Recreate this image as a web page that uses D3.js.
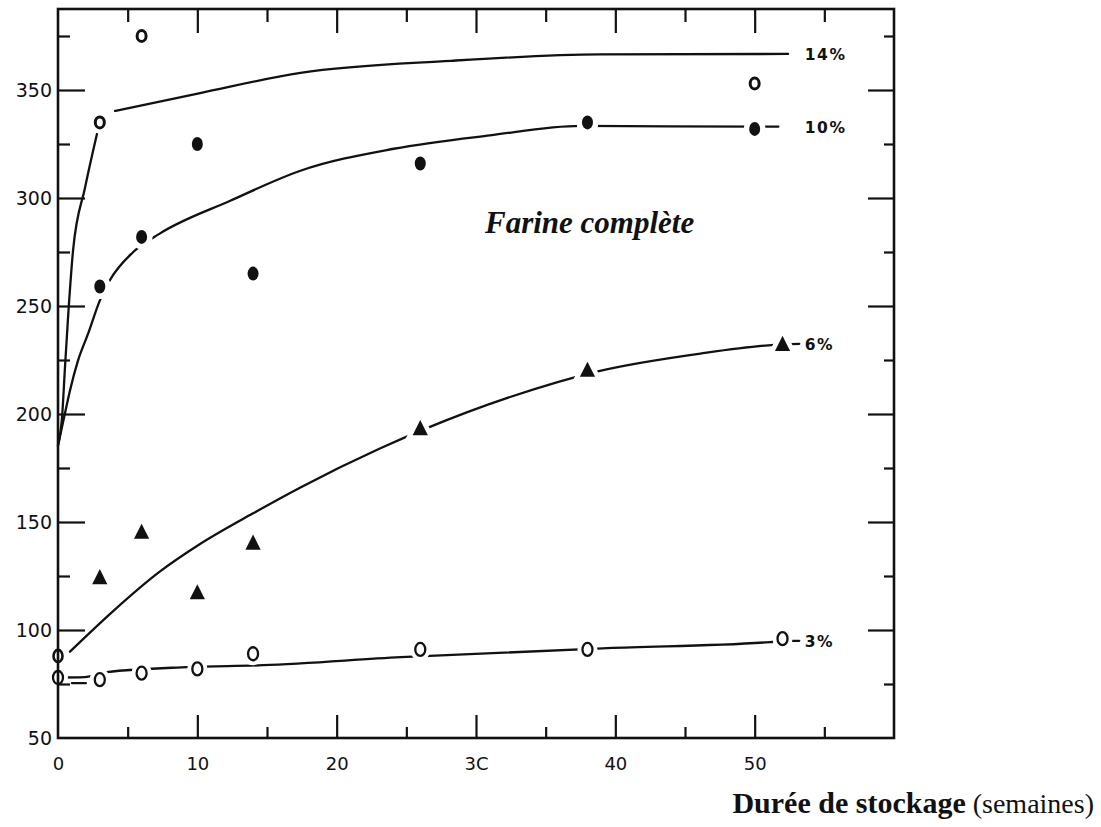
<!DOCTYPE html>
<html><head><meta charset="utf-8">
<script src="https://cdn.jsdelivr.net/npm/d3@7"></script>
<style>body{margin:0;background:#fff;} svg{display:block;}</style>
</head><body>
<svg id="chart" width="1101" height="827"></svg>
<script>
// ---------- data ----------
const seriesNames = ["14%", "10%", "6%", "3%"];

const weeks14 = [3, 6, 50];
const vals14  = [335, 375, 353];

const weeks10 = [3, 6, 10, 14, 26, 38, 50];
const vals10  = [259, 282, 325, 265, 316, 335, 332];

const weeks6  = [0, 3, 6, 10, 14, 26, 38, 52];
const vals6   = [88, 124, 145, 117, 140, 193, 220, 232];

const weeks3  = [0, 3, 6, 10, 14, 26, 38, 52];
const vals3   = [78, 77, 80, 82, 89, 91, 91, 96];

// hand-fitted curves as drawn in the figure [week, value]
const curve14a = [[0,185.5],[0.29,198.4],[0.5,221.5],[0.72,244.6],[1.08,275.6],[1.94,304.7],[2.8,329.7]];
const curve14  = [[4.1,340.3],[10.2,348.6],[17.4,357.9],[28.2,363.5],[38.9,366.5],[52.4,366.7]];
const curve10  = [[0,185.5],[0.5,200.3],[0.86,210.9],[1.44,224.8],[2.16,237.2],[3.0,252.5],[3.7,261.7],[5.4,275],[7.3,283.5],[12.36,298.7],[17.4,312.6],[24.1,322.8],[31,329],[37.5,333.4],[50.2,333],[51.7,333]];
const curve6   = [[0.86,90],[4,109],[7.3,127],[10,139],[14,154],[17.4,166],[23.1,184],[26.3,193],[32.5,208],[38.9,220],[46.1,228],[51.4,232],[53.2,232.5]];
const curve3   = [[0,78],[1.9,78.2],[3.5,80.5],[9.3,82.8],[14.7,83.7],[24.6,87.4],[39.4,91.6],[51.1,94.4],[52,95],[53.2,95]];
const curve3b  = [[1.0,75.4],[2.0,75.4]];

const xMajor = [10, 20, 30, 40, 50];
const xMinor = [5, 15, 25, 35, 45, 55];
const xLabelVals = [0, 10, 20, 30, 40, 50];
const xTickLabels = ["0", "10", "20", "3C", "40", "50"];
const yMajor = [100, 150, 200, 250, 300, 350];
const yMinor = [75, 125, 175, 225, 275, 325, 375];
const yLabelVals = [50, 100, 150, 200, 250, 300, 350];

// ---------- scales ----------
const L = 58, R = 894, T = 9, B = 738;
const x = d3.scaleLinear().domain([0, 60]).range([L, R]);
const y = d3.scaleLinear().domain([50, 387.5]).range([B, T]);

const svg = d3.select("#chart");
const ink = "#111";

// ---------- curves ----------
const line = d3.line().x(d => x(d[0])).y(d => y(d[1])).curve(d3.curveMonotoneX);
const gCurves = svg.append("g");
[curve14a, curve14, curve10, curve6, curve3, curve3b].forEach(c => {
  gCurves.append("path").attr("d", line(c)).attr("fill", "none")
    .attr("stroke", ink).attr("stroke-width", 2.3).attr("stroke-linecap", "round");
});

// ---------- markers ----------
const gM = svg.append("g");
function zipPts(w, v) { return w.map((d, i) => ({w: d, v: v[i]})); }
const tri = d3.symbol().type(d3.symbolTriangle).size(100);

function drawOpen(pts, rx, ry, sw, halo) {
  gM.selectAll(null).data(pts).join("ellipse")
    .attr("cx", d => x(d.w)).attr("cy", d => y(d.v)).attr("rx", rx).attr("ry", ry)
    .attr("fill", "#fff").attr("stroke", "#fff").attr("stroke-width", halo);
  gM.selectAll(null).data(pts).join("ellipse")
    .attr("cx", d => x(d.w)).attr("cy", d => y(d.v)).attr("rx", rx).attr("ry", ry)
    .attr("fill", "#fff").attr("stroke", ink).attr("stroke-width", sw);
}
function drawFilled(pts) {
  gM.selectAll(null).data(pts).join("ellipse")
    .attr("cx", d => x(d.w)).attr("cy", d => y(d.v)).attr("rx", 5.5).attr("ry", 7)
    .attr("fill", "#fff").attr("stroke", "#fff").attr("stroke-width", 11);
  gM.selectAll(null).data(pts).join("ellipse")
    .attr("cx", d => x(d.w)).attr("cy", d => y(d.v)).attr("rx", 5.5).attr("ry", 7)
    .attr("fill", ink);
}
function drawTri(pts) {
  gM.selectAll(null).data(pts).join("path")
    .attr("transform", d => `translate(${x(d.w)},${y(d.v) + 1}) scale(1,1.15)`)
    .attr("d", tri).attr("fill", "#fff").attr("stroke", "#fff").attr("stroke-width", 9);
  gM.selectAll(null).data(pts).join("path")
    .attr("transform", d => `translate(${x(d.w)},${y(d.v) + 1}) scale(1,1.15)`)
    .attr("d", tri).attr("fill", ink);
}

const p14 = zipPts(weeks14, vals14);
const p10 = zipPts(weeks10, vals10);
const p6 = zipPts(weeks6, vals6);
const p3 = zipPts(weeks3, vals3);

drawOpen(p14, 4.5, 5.5, 3, 11);
drawFilled(p10);
drawTri(p6.filter(d => d.w > 0));
drawOpen(p6.filter(d => d.w === 0), 4.5, 6, 2.6, 4);
drawOpen(p3, 5, 6.5, 2.3, 10);

// ---------- frame & axes ----------
svg.append("rect").attr("x", L).attr("y", T).attr("width", R - L).attr("height", B - T)
  .attr("fill", "none").attr("stroke", ink).attr("stroke-width", 2.6);

function styleAxis(g) {
  g.select(".domain").remove();
  g.selectAll(".tick line").attr("stroke", ink).attr("stroke-width", 2.2);
}
const noFmt = () => "";
// bottom (ticks inward)
svg.append("g").attr("transform", `translate(0,${B})`)
  .call(d3.axisTop(x).tickValues(xMajor).tickSize(23).tickFormat(noFmt)).call(styleAxis);
svg.append("g").attr("transform", `translate(0,${B})`)
  .call(d3.axisTop(x).tickValues(xMinor).tickSize(11).tickFormat(noFmt)).call(styleAxis);
// top
svg.append("g").attr("transform", `translate(0,${T})`)
  .call(d3.axisBottom(x).tickValues(xMajor).tickSize(24).tickFormat(noFmt)).call(styleAxis);
svg.append("g").attr("transform", `translate(0,${T})`)
  .call(d3.axisBottom(x).tickValues(xMinor).tickSize(13).tickFormat(noFmt)).call(styleAxis);
// left
svg.append("g").attr("transform", `translate(${L},0)`)
  .call(d3.axisRight(y).tickValues(yMajor).tickSize(27).tickFormat(noFmt)).call(styleAxis);
svg.append("g").attr("transform", `translate(${L},0)`)
  .call(d3.axisRight(y).tickValues(yMinor).tickSize(12).tickFormat(noFmt)).call(styleAxis);
// right
svg.append("g").attr("transform", `translate(${R},0)`)
  .call(d3.axisLeft(y).tickValues(yMajor).tickSize(26).tickFormat(noFmt)).call(styleAxis);
svg.append("g").attr("transform", `translate(${R},0)`)
  .call(d3.axisLeft(y).tickValues(yMinor).tickSize(10).tickFormat(noFmt)).call(styleAxis);

// tick labels
const xl = svg.append("g").attr("transform", `translate(0,${B})`)
  .call(d3.axisBottom(x).tickValues(xLabelVals).tickSize(0).tickPadding(19)
    .tickFormat((d, i) => xTickLabels[i]));
xl.select(".domain").remove();
xl.selectAll("text").attr("font-family", "DejaVu Sans, sans-serif").attr("font-size", 18)
  .attr("fill", ink);

const yl = svg.append("g").attr("transform", `translate(${L},0)`)
  .call(d3.axisLeft(y).tickValues(yLabelVals).tickSize(0).tickPadding(6));
yl.select(".domain").remove();
yl.selectAll("text").attr("font-family", "DejaVu Sans, sans-serif").attr("font-size", 19)
  .attr("fill", ink);

// series labels at curve ends
const ends = [curve14, curve10, curve6, curve3].map(c => c[c.length - 1]);
svg.append("g").selectAll("text").data(seriesNames).join("text")
  .attr("x", x(53.6))
  .attr("y", (d, i) => y(ends[i][1]))
  .attr("dy", "0.38em")
  .attr("font-family", "DejaVu Sans, sans-serif").attr("font-weight", "bold")
  .attr("font-size", 15.5).attr("letter-spacing", 1.5).attr("fill", ink)
  .text(d => d);

// annotation
svg.append("text").attr("x", 485).attr("y", 233)
  .attr("font-family", "Liberation Serif, serif").attr("font-style", "italic")
  .attr("font-weight", "bold").attr("font-size", 31).attr("fill", ink)
  .text("Farine complète");

// axis title
const t = svg.append("text").attr("x", 1094).attr("y", 813).attr("text-anchor", "end")
  .attr("font-family", "Liberation Serif, serif").attr("fill", ink);
t.append("tspan").attr("font-weight", "bold").attr("font-size", 30).text("Durée de stockage");
t.append("tspan").attr("font-size", 28).text(" (semaines)");
</script>
</body></html>
